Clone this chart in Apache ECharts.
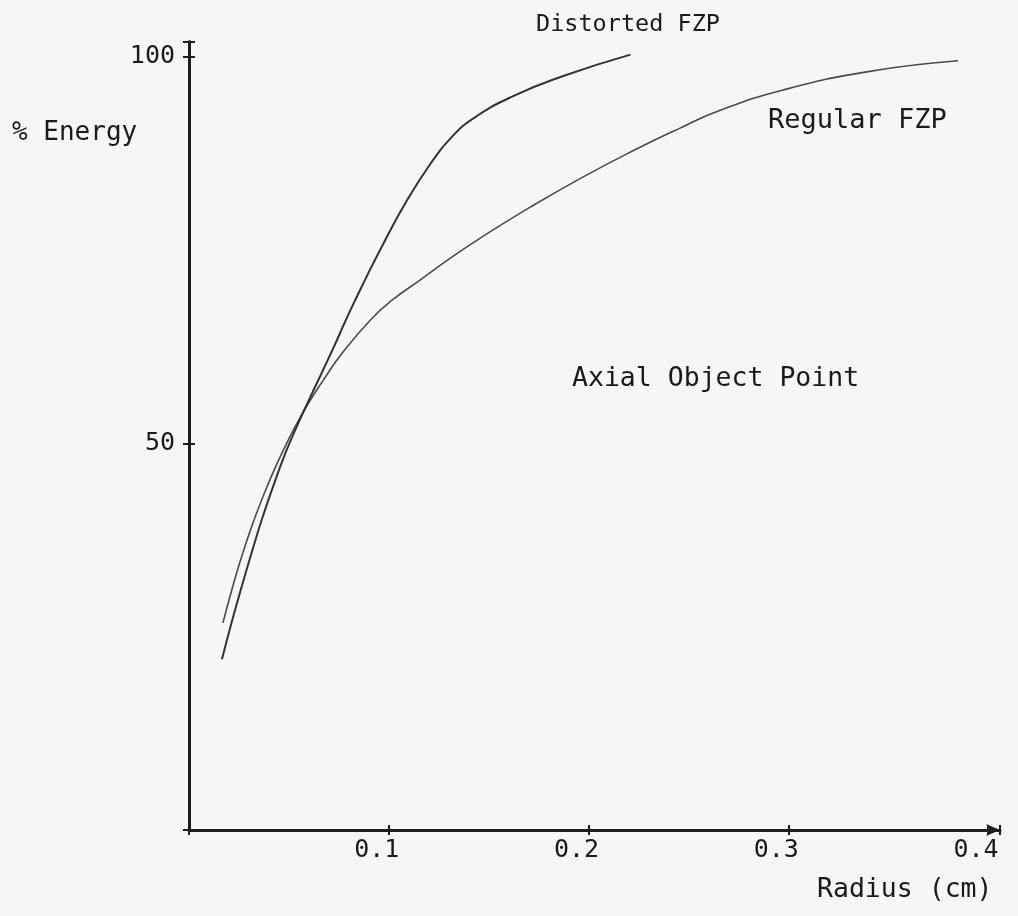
<!DOCTYPE html>
<html>
<head>
<meta charset="utf-8">
<script src="https://cdn.jsdelivr.net/npm/echarts@6/dist/echarts.min.js"></script>
<style>
html,body{margin:0;padding:0;background:#f6f6f4;}
#chart{width:1018px;height:916px;}
</style>
</head>
<body>
<div id="chart"></div>
<script>
// Radius (cm) vs % Energy, axial object point
const regularX = [0.017,0.022,0.027,0.032,0.037,0.042,0.047,0.053,0.060,0.067,0.077,0.092,0.102,0.116,0.131,0.146,0.171,0.196,0.221,0.245,0.265,0.297,0.340,0.385];
const regularY = [26.8,31.6,35.9,39.7,43.1,46.2,49.0,52.1,55.3,58.1,61.8,66.3,68.6,71.2,74.0,76.6,80.6,84.3,87.7,90.7,93.0,95.7,98.1,99.5];
const distortedX = [0.0165,0.0215,0.0265,0.0315,0.0365,0.0415,0.0485,0.055,0.060,0.072,0.080,0.088,0.096,0.109,0.122,0.131,0.142,0.162,0.187,0.221];
const distortedY = [22.1,27.0,31.6,36.0,40.2,44.0,48.9,52.8,55.6,62.2,66.8,71.1,75.2,81.4,86.6,89.5,92.0,94.9,97.5,100.3];
const xTickLabels = ['0.1','0.2','0.3','0.4'];
const yTickLabels = ['50','100'];

const FONT = 'DejaVu Sans Mono';
const zip = (xs, ys) => xs.map((x, i) => [x, ys[i]]);
const AX = '#1e1e1e';

const xFmt = v => { const s = String(+(+v).toFixed(3)); return xTickLabels.includes(s) ? s : ''; };
const yFmt = v => { const s = String(+(+v).toFixed(3)); return yTickLabels.includes(s) ? s : ''; };

const chart = echarts.init(document.getElementById('chart'), null, {renderer: 'canvas'});
chart.setOption({
  backgroundColor: '#f6f6f4',
  animation: false,
  grid: {left: 189, right: 18, top: 41.5, bottom: 86, containLabel: false},
  xAxis: [
    {type: 'value', min: 0, max: 0.406, interval: 0.1, splitLine: {show: false},
      axisLine: {lineStyle: {color: AX, width: 3}, symbol: ['none', 'arrow'], symbolSize: [9, 14]},
      axisTick: {show: true, interval: 0, length: 5, lineStyle: {color: AX, width: 2}},
      axisLabel: {color: '#1a1a1a', fontFamily: FONT, fontSize: 25, margin: 8,
        padding: [0, 24, 0, 0], formatter: xFmt}
    },
    {type: 'value', min: 0, max: 0.406, interval: 0.1, splitLine: {show: false},
      position: 'bottom',
      axisLine: {show: false},
      axisTick: {show: true, interval: 0, inside: true, length: 5, lineStyle: {color: AX, width: 2}},
      axisLabel: {show: false}
    }
  ],
  yAxis: [
    {type: 'value', min: 0, max: 102, interval: 50, splitLine: {show: false},
      axisLine: {show: true, lineStyle: {color: AX, width: 3}},
      axisTick: {show: true, interval: 0, length: 6, lineStyle: {color: AX, width: 2}},
      axisLabel: {color: '#1a1a1a', fontFamily: FONT, fontSize: 25, margin: 14, formatter: yFmt}
    },
    {type: 'value', min: 0, max: 102, interval: 50, splitLine: {show: false},
      position: 'left',
      axisLine: {show: false},
      axisTick: {show: true, interval: 0, inside: true, length: 6, lineStyle: {color: AX, width: 2}},
      axisLabel: {show: false}
    }
  ],
  series: [
    {name: 'Regular FZP', type: 'line', smooth: 0.5, showSymbol: false,
     lineStyle: {color: '#4a4a4a', width: 1.6}, data: zip(regularX, regularY)},
    {name: 'Distorted FZP', type: 'line', smooth: 0.5, showSymbol: false,
     lineStyle: {color: '#333', width: 2}, data: zip(distortedX, distortedY)}
  ],
  graphic: [
    {type: 'text', left: 536, top: 13, style: {text: 'Distorted FZP', font: '23.5px ' + FONT, fill: '#1a1a1a'}},
    {type: 'text', left: 768, top: 107, style: {text: 'Regular FZP', font: '27px ' + FONT, fill: '#1a1a1a'}},
    {type: 'text', left: 572, top: 366, style: {text: 'Axial Object Point', font: '26.5px ' + FONT, fill: '#1a1a1a'}},
    {type: 'text', left: 12, top: 120, style: {text: '% Energy', font: '26px ' + FONT, fill: '#1a1a1a'}},
    {type: 'text', left: 817, top: 877, style: {text: 'Radius (cm)', font: '26.5px ' + FONT, fill: '#1a1a1a'}}
  ]
});
</script>
</body>
</html>
